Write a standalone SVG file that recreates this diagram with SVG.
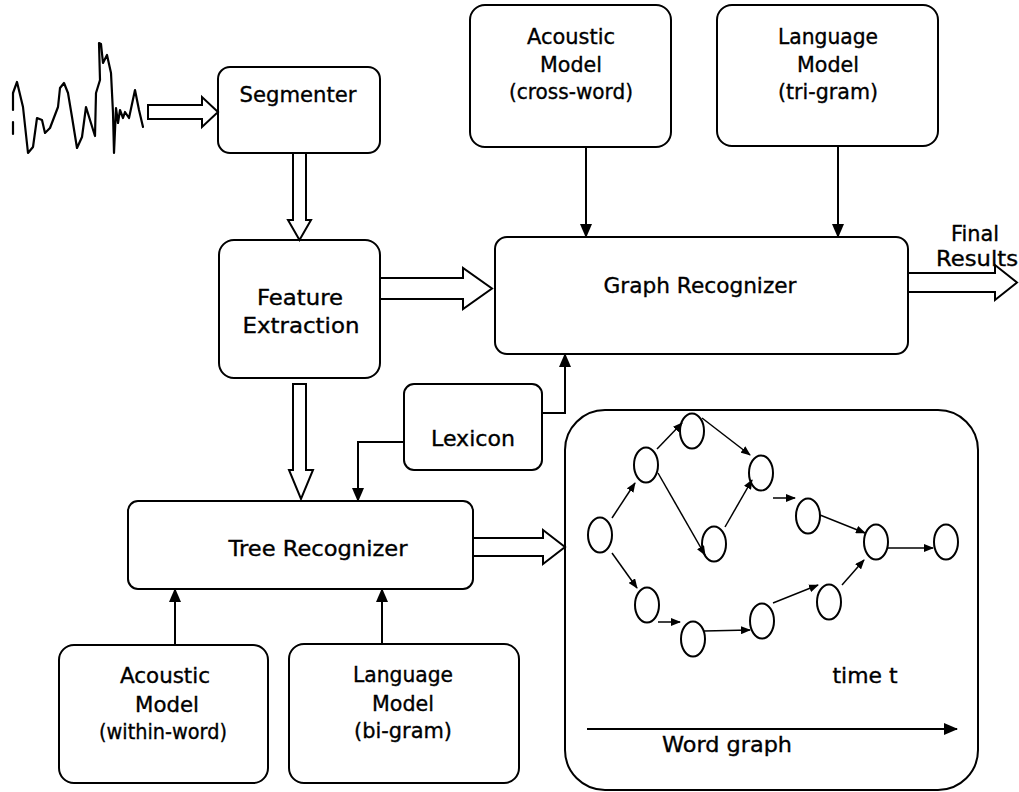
<svg xmlns="http://www.w3.org/2000/svg" width="1019" height="792" viewBox="0 0 1019 792">
  <style>
    .box { fill: #fff; stroke: #000; stroke-width: 2; }
    .hollow { fill: #fff; stroke: #000; stroke-width: 2; stroke-linejoin: miter; }
    .line { fill: none; stroke: #000; stroke-width: 2; }
    .thin { fill: none; stroke: #000; stroke-width: 1.5; }
    .node { fill: #fff; stroke: #000; stroke-width: 2; }
    .wave { fill: none; stroke: #000; stroke-width: 2.2; stroke-linejoin: round; stroke-linecap: round; }
    text { font-family: "DejaVu Sans", "Liberation Sans", sans-serif; font-size: 21px; fill: #000; stroke: #000; stroke-width: 0.35; text-anchor: middle; }
  </style>
  <defs>
    <marker id="head" markerUnits="userSpaceOnUse" markerWidth="14" markerHeight="12" refX="13" refY="6" orient="auto">
      <path d="M0,0 L14,6 L0,12 z" fill="#000"/>
    </marker>
    <marker id="headSmall" markerUnits="userSpaceOnUse" markerWidth="10" markerHeight="8" refX="9" refY="4" orient="auto">
      <path d="M0,0 L10,4 L0,8 z" fill="#000"/>
    </marker>
  </defs>

  <rect width="1019" height="792" fill="#fff"/>

  <!-- speech waveform input -->
  <g id="waveform">
    <path class="wave" d="M13,93 L17,82 L23,107 L28,153 L33,147 L37,118 L42,120 L45,133 L50,128 L58,107 L60,88 L64,83 L68,93 L72,117 L77,148 L82,137 L86,107 L90,120 L95,136 L96,93 L100,80 L99,43 L101,44 L103,63 L107,55 L111,73 L113,113 L114,153 L116,108 L118,123 L120,110 L123,118 L125,112 L129,118 L135,90 L139,110 L143,127"/>
    <path class="wave" d="M13,93 L13,110"/>
    <path class="wave" d="M13,122 L13,134"/>
  </g>

  <!-- nodes -->
  <g id="segmenter">
    <rect class="box" x="218" y="67" width="162" height="86" rx="12"/>
    <text x="298" y="102" textLength="117" lengthAdjust="spacingAndGlyphs">Segmenter</text>
  </g>

  <g id="feature-extraction">
    <rect class="box" x="219" y="240" width="161" height="138" rx="15"/>
    <text x="300" y="305" textLength="86" lengthAdjust="spacingAndGlyphs">Feature</text>
    <text x="301" y="333" textLength="117" lengthAdjust="spacingAndGlyphs">Extraction</text>
  </g>

  <g id="acoustic-model-cross-word">
    <rect class="box" x="470" y="5" width="201" height="142" rx="15"/>
    <text x="571" y="44" textLength="88" lengthAdjust="spacingAndGlyphs">Acoustic</text>
    <text x="571" y="72" textLength="62" lengthAdjust="spacingAndGlyphs">Model</text>
    <text x="571" y="99" textLength="124" lengthAdjust="spacingAndGlyphs">(cross-word)</text>
  </g>

  <g id="language-model-tri-gram">
    <rect class="box" x="717" y="5" width="221" height="141" rx="15"/>
    <text x="828" y="44" textLength="100" lengthAdjust="spacingAndGlyphs">Language</text>
    <text x="828" y="72" textLength="62" lengthAdjust="spacingAndGlyphs">Model</text>
    <text x="828" y="99" textLength="100" lengthAdjust="spacingAndGlyphs">(tri-gram)</text>
  </g>

  <g id="graph-recognizer">
    <rect class="box" x="495" y="237" width="413" height="117" rx="12"/>
    <text x="700" y="293" textLength="193" lengthAdjust="spacingAndGlyphs">Graph Recognizer</text>
  </g>

  <g id="final-results">
    <text x="975" y="241" textLength="48" lengthAdjust="spacingAndGlyphs">Final</text>
    <text x="977" y="266" textLength="82" lengthAdjust="spacingAndGlyphs">Results</text>
  </g>

  <g id="lexicon">
    <rect class="box" x="404" y="384" width="138" height="86" rx="10"/>
    <text x="473" y="446" textLength="84" lengthAdjust="spacingAndGlyphs">Lexicon</text>
  </g>

  <g id="tree-recognizer">
    <rect class="box" x="128" y="501" width="345" height="88" rx="10"/>
    <text x="318" y="556" textLength="179" lengthAdjust="spacingAndGlyphs">Tree Recognizer</text>
  </g>

  <g id="acoustic-model-within-word">
    <rect class="box" x="59" y="645" width="209" height="138" rx="15"/>
    <text x="165" y="683" textLength="90" lengthAdjust="spacingAndGlyphs">Acoustic</text>
    <text x="167" y="712" textLength="64" lengthAdjust="spacingAndGlyphs">Model</text>
    <text x="163" y="739" textLength="128" lengthAdjust="spacingAndGlyphs">(within-word)</text>
  </g>

  <g id="language-model-bi-gram">
    <rect class="box" x="289" y="644" width="230" height="139" rx="15"/>
    <text x="403" y="682" textLength="100" lengthAdjust="spacingAndGlyphs">Language</text>
    <text x="403" y="711" textLength="62" lengthAdjust="spacingAndGlyphs">Model</text>
    <text x="403" y="738" textLength="98" lengthAdjust="spacingAndGlyphs">(bi-gram)</text>
  </g>

  <g id="word-graph">
    <rect class="box" x="565" y="410" width="413" height="380" rx="40"/>
    <g id="word-graph-nodes">
      <ellipse class="node" cx="600" cy="535" rx="12" ry="17.5"/>
      <ellipse class="node" cx="646" cy="465" rx="12" ry="17.5"/>
      <ellipse class="node" cx="692" cy="431" rx="12" ry="17.5"/>
      <ellipse class="node" cx="761" cy="473" rx="12" ry="17.5"/>
      <ellipse class="node" cx="714" cy="544" rx="12" ry="17.5"/>
      <ellipse class="node" cx="808" cy="516" rx="12" ry="17.5"/>
      <ellipse class="node" cx="876" cy="542" rx="12" ry="17.5"/>
      <ellipse class="node" cx="946" cy="542" rx="12" ry="17.5"/>
      <ellipse class="node" cx="647" cy="605" rx="12" ry="17.5"/>
      <ellipse class="node" cx="693" cy="639" rx="12" ry="17.5"/>
      <ellipse class="node" cx="762" cy="621" rx="12" ry="17.5"/>
      <ellipse class="node" cx="829" cy="602" rx="12" ry="17.5"/>
    </g>
    <g id="word-graph-edges">
      <line class="thin" x1="612" y1="518" x2="635" y2="483" marker-end="url(#headSmall)"/>
      <line class="thin" x1="657" y1="449" x2="682" y2="423" marker-end="url(#headSmall)"/>
      <line class="thin" x1="702" y1="418" x2="750" y2="455" marker-end="url(#headSmall)"/>
      <line class="thin" x1="658" y1="473" x2="705" y2="555" marker-end="url(#headSmall)"/>
      <line class="thin" x1="725" y1="527" x2="752" y2="480" marker-end="url(#headSmall)"/>
      <line class="thin" x1="773" y1="498" x2="795" y2="498" marker-end="url(#headSmall)"/>
      <line class="thin" x1="820" y1="515" x2="865" y2="533" marker-end="url(#headSmall)"/>
      <line class="thin" x1="888" y1="548" x2="933" y2="548" marker-end="url(#headSmall)"/>
      <line class="thin" x1="612" y1="553" x2="637" y2="588" marker-end="url(#headSmall)"/>
      <line class="thin" x1="658" y1="622" x2="680" y2="622" marker-end="url(#headSmall)"/>
      <line class="thin" x1="704" y1="631" x2="750" y2="630" marker-end="url(#headSmall)"/>
      <line class="thin" x1="773" y1="603" x2="818" y2="585" marker-end="url(#headSmall)"/>
      <line class="thin" x1="842" y1="585" x2="864" y2="560" marker-end="url(#headSmall)"/>
    </g>
    <text x="865" y="683" textLength="65" lengthAdjust="spacingAndGlyphs">time t</text>
    <line class="line" x1="587" y1="729" x2="957" y2="729" marker-end="url(#head)"/>
    <text x="727" y="752" textLength="130" lengthAdjust="spacingAndGlyphs">Word graph</text>
  </g>

  <!-- connectors -->
  <g id="connectors">
    <!-- wide hollow arrows -->
    <polygon class="hollow" points="148,105 202,105 202,97 218,112 202,127 202,119 148,119"/>
    <polygon class="hollow" points="293,153 306,153 306,220 311,220 299.5,240 288,220 293,220"/>
    <polygon class="hollow" points="380,278 463,278 463,268 492,288.5 463,309 463,299 380,299"/>
    <polygon class="hollow" points="293,384 306,384 306,470 313,470 301,499 289,470 293,470"/>
    <polygon class="hollow" points="473,538 543,538 543,530 565,547 543,564 543,556 473,556"/>
    <polygon class="hollow" points="908,273 995,273 995,265 1017,282.5 995,300 995,292 908,292"/>
    <!-- model and lexicon links -->
    <line class="line" x1="586" y1="147" x2="586" y2="237" marker-end="url(#head)"/>
    <line class="line" x1="838" y1="146" x2="838" y2="237" marker-end="url(#head)"/>
    <polyline class="line" points="542,413 565,413 565,354" marker-end="url(#head)"/>
    <polyline class="line" points="404,442 358,442 358,501" marker-end="url(#head)"/>
    <line class="line" x1="175" y1="645" x2="175" y2="589" marker-end="url(#head)"/>
    <line class="line" x1="382" y1="644" x2="382" y2="589" marker-end="url(#head)"/>
  </g>
</svg>
